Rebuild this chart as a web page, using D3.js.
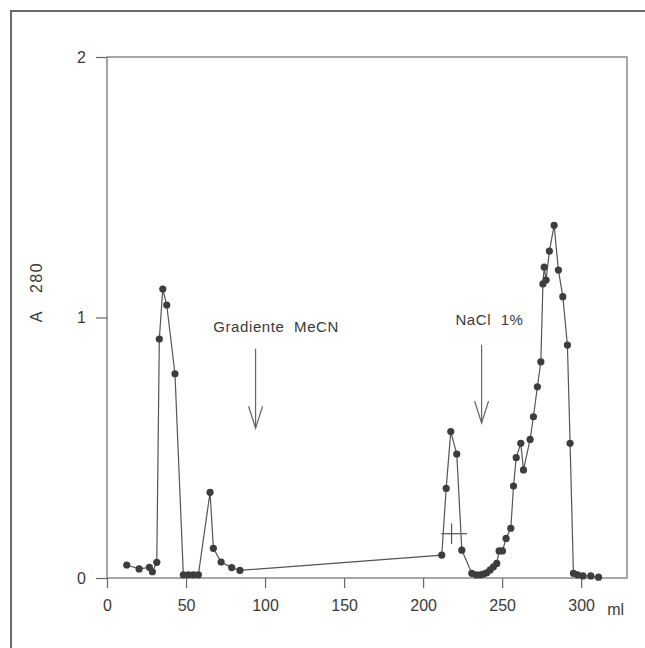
<!DOCTYPE html>
<html>
<head>
<meta charset="utf-8">
<script src="https://cdn.jsdelivr.net/npm/d3@7"></script>
<style>
  body { margin: 0; background: #fff; }
  text { font-family: "Liberation Sans", Arial, sans-serif; fill: #3a3a3a; }
</style>
</head>
<body>
<script>
"use strict";

// elution volume (ml) and absorbance at 280 nm
const volume = [12.5, 20.3, 26.8, 28.7, 31.5, 33.1, 35.3, 37.8, 43.0, 48.3, 51.5, 54.6, 57.8,
  65.2, 67.3, 72.2, 78.9, 84.1,
  211.8, 214.6, 217.5, 221.3, 224.5, 230.8, 233.5, 236.1, 238.2, 240.3, 242.4, 244.5, 246.6,
  248.1, 250.2, 252.5, 255.5, 257.2, 258.9, 261.8, 263.5, 267.7, 269.8, 272.3, 274.5, 275.8,
  276.6, 277.8, 279.9, 282.9, 285.6, 288.4, 291.3, 293.0, 295.1, 297.7, 301.1, 306.1, 311.0];
const absorbance = [0.05, 0.035, 0.041, 0.024, 0.06, 0.917, 1.109, 1.048, 0.784, 0.012, 0.012, 0.012, 0.012,
  0.329, 0.114, 0.061, 0.04, 0.029,
  0.088, 0.344, 0.562, 0.476, 0.107, 0.018, 0.012, 0.012, 0.015, 0.02, 0.031, 0.043, 0.056,
  0.104, 0.104, 0.152, 0.191, 0.353, 0.462, 0.517, 0.415, 0.532, 0.619, 0.734, 0.83, 1.129,
  1.193, 1.144, 1.255, 1.354, 1.182, 1.08, 0.894, 0.517, 0.018, 0.012, 0.008, 0.008, 0.003];

const xTicks = [0, 50, 100, 150, 200, 250, 300];
const yTicks = [0, 1, 2];

// arrows: label, volume of arrow, absorbance of label
const notes = [
  { label: "Gradiente  MeCN", ml: 94, labelA: 0.945, textMl: 107, top: 0.88, tip: 0.575 },
  { label: "NaCl  1%", ml: 237, labelA: 0.97, textMl: 242, top: 0.895, tip: 0.595 }
];

const W = 645, H = 648;
const svg = d3.select("body").append("svg").attr("width", W).attr("height", H);

// scanned page frame
svg.append("rect")
  .attr("x", 11).attr("y", 11).attr("width", 700).attr("height", 700)
  .attr("fill", "none").attr("stroke", "#6a6a6a").attr("stroke-width", 2);

const x = d3.scaleLinear().domain([0, 329]).range([107, 627]);
const y = d3.scaleLinear().domain([0, 2]).range([578, 57]);

// plot box
svg.append("rect")
  .attr("x", x(0)).attr("y", y(2))
  .attr("width", x(329) - x(0)).attr("height", y(0) - y(2))
  .attr("fill", "none").attr("stroke", "#777").attr("stroke-width", 1.3);

const xAxis = svg.append("g")
  .attr("transform", `translate(0, ${y(0)})`)
  .call(d3.axisBottom(x).tickValues(xTicks).tickSize(10).tickPadding(12).tickFormat(d3.format("d")));
const yAxis = svg.append("g")
  .attr("transform", `translate(${x(0)}, 0)`)
  .call(d3.axisLeft(y).tickValues(yTicks).tickSize(11).tickPadding(10).tickFormat(d3.format("d")));

[xAxis, yAxis].forEach(g => {
  g.select(".domain").remove();
  g.selectAll("line").attr("stroke", "#666").attr("stroke-width", 1.2);
  g.selectAll("text").attr("font-size", 16).attr("fill", "#3a3a3a")
    .attr("font-family", "'Liberation Sans', Arial, sans-serif");
});

svg.append("text")
  .attr("x", x(300) + 26).attr("y", y(0) + 37)
  .attr("font-size", 16).text("ml");

svg.append("text")
  .attr("transform", `translate(42, 292) rotate(-90)`)
  .attr("text-anchor", "middle")
  .attr("font-size", 16)
  .attr("letter-spacing", 1.5)
  .attr("xml:space", "preserve")
  .text("A   280");

// data line and points
const pts = volume.map((v, i) => [v, absorbance[i]]);
svg.append("path")
  .datum(pts)
  .attr("fill", "none").attr("stroke", "#555").attr("stroke-width", 1.2)
  .attr("d", d3.line().x(d => x(d[0])).y(d => y(d[1])));

svg.append("g").selectAll("circle")
  .data(pts)
  .enter()
  .append("circle")
  .attr("cx", d => x(d[0]))
  .attr("cy", d => y(d[1]))
  .attr("r", 3.6)
  .attr("fill", "#3d3d3d");

// break mark near 218 ml
svg.append("line")
  .attr("x1", x(211.4)).attr("x2", x(227.8))
  .attr("y1", y(0.17)).attr("y2", y(0.17))
  .attr("stroke", "#555").attr("stroke-width", 1.2);
svg.append("line")
  .attr("x1", x(218)).attr("x2", x(218))
  .attr("y1", y(0.13)).attr("y2", y(0.21))
  .attr("stroke", "#555").attr("stroke-width", 1.2);

// annotations with open arrows
notes.forEach(n => {
  svg.append("text")
    .attr("x", x(n.textMl)).attr("y", y(n.labelA))
    .attr("text-anchor", "middle")
    .attr("font-size", 15)
    .attr("letter-spacing", 0.6)
    .attr("xml:space", "preserve")
    .text(n.label);
  svg.append("line")
    .attr("x1", x(n.ml)).attr("x2", x(n.ml))
    .attr("y1", y(n.top)).attr("y2", y(n.tip))
    .attr("stroke", "#666").attr("stroke-width", 1.2);
  svg.append("path")
    .attr("d", `M${x(n.ml) - 7},${y(n.tip) - 22} L${x(n.ml)},${y(n.tip)} L${x(n.ml) + 7},${y(n.tip) - 22}`)
    .attr("fill", "none").attr("stroke", "#666").attr("stroke-width", 1.2);
});
</script>
</body>
</html>
